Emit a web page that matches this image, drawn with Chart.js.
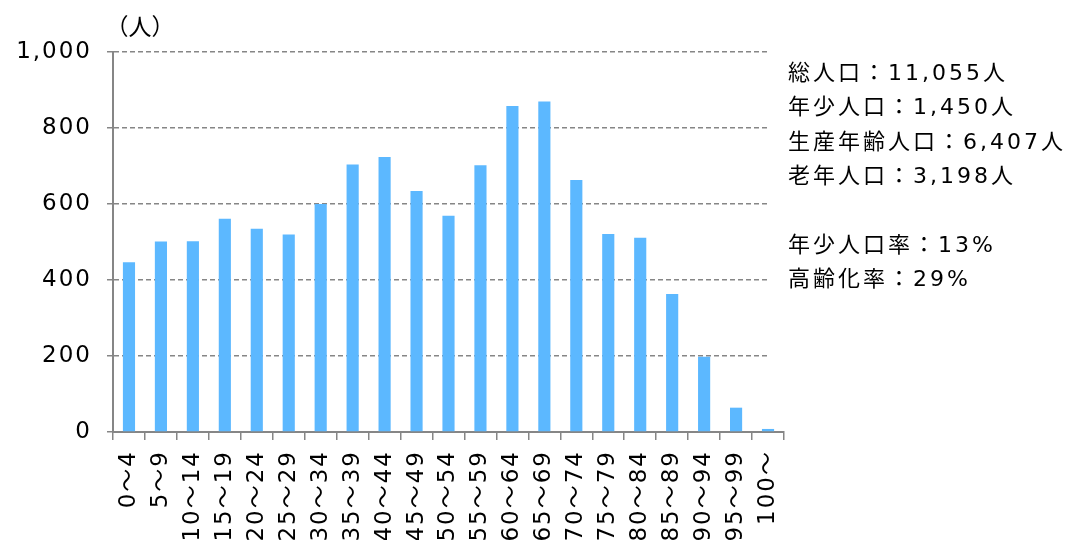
<!DOCTYPE html>
<html lang="ja">
<head>
<meta charset="utf-8">
<title>年齢階級別人口</title>
<script src="https://cdn.jsdelivr.net/npm/chart.js@4/dist/chart.umd.min.js"></script>
<style>
  html, body { margin: 0; padding: 0; background: #fff; }
  #wrap { width: 1067px; height: 540px; position: relative; }
</style>
</head>
<body>
<div id="wrap"><canvas id="c"></canvas></div>
<script>
// 5歳階級別の人口
const ageGroups = ['0～4', '5～9', '10～14', '15～19', '20～24', '25～29', '30～34',
  '35～39', '40～44', '45～49', '50～54', '55～59', '60～64', '65～69', '70～74',
  '75～79', '80～84', '85～89', '90～94', '95～99', '100～'];
const population = [447, 501, 502, 561, 535, 520, 600, 704, 724, 634, 569, 702, 858,
  870, 663, 521, 511, 363, 198, 64, 8];
const yTicks = [0, 200, 400, 600, 800, 1000];
const unitLabel = '（人）';
const summaryLines = [
  '総人口：11,055人',
  '年少人口：1,450人',
  '生産年齢人口：6,407人',
  '老年人口：3,198人',
  '',
  '年少人口率：13%',
  '高齢化率：29%'
];

const FAMILY = '"DejaVu Sans", "Noto Sans CJK JP", sans-serif';
const AXIS_GRAY = '#868686';
const BAR_BLUE = '#5cb8ff';

// tick labels are drawn with a little tracking
const trackingPlugin = {
  id: 'tracking',
  beforeDraw(chart) { chart.ctx.letterSpacing = '2px'; }
};

// summary text box (white background) and unit label
const summaryPlugin = {
  id: 'summary',
  beforeDatasetsDraw(chart) {
    const ctx = chart.ctx;
    ctx.save();
    ctx.fillStyle = '#fff';
    ctx.fillRect(768, 40, 1067 - 768, 360);
    ctx.fillStyle = '#000';
    ctx.letterSpacing = '3px';
    ctx.font = '22px ' + FAMILY;
    ctx.textAlign = 'left';
    ctx.textBaseline = 'alphabetic';
    summaryLines.forEach((line, i) => {
      if (line) ctx.fillText(line, 788, 80 + i * 34.3);
    });
    ctx.letterSpacing = '0px';
    ctx.textAlign = 'center';
    ctx.textBaseline = 'middle';
    ctx.font = '23px "Noto Sans CJK JP", sans-serif';
    ctx.fillText(unitLabel, 140, 26);
    ctx.restore();
  }
};

const tickFont = { family: FAMILY, size: 23 };

new Chart(document.getElementById('c'), {
  type: 'bar',
  data: {
    labels: ageGroups,
    datasets: [{
      data: population,
      backgroundColor: BAR_BLUE,
      borderWidth: 0,
      barPercentage: 0.38,
      categoryPercentage: 1.0
    }]
  },
  options: {
    responsive: true,
    maintainAspectRatio: false,
    animation: false,
    layout: { padding: { top: 52, right: 283, bottom: 0, left: 0 } },
    plugins: { legend: { display: false }, tooltip: { enabled: false }, title: { display: false } },
    scales: {
      x: {
        afterFit: s => { s.height = 108; },
        border: { display: true, color: AXIS_GRAY, width: 2 },
        grid: { drawOnChartArea: false, offset: true, tickLength: 8, color: AXIS_GRAY, lineWidth: 1.5 },
        ticks: { autoSkip: false, minRotation: 90, maxRotation: 90, padding: 10, color: '#000', font: tickFont }
      },
      y: {
        min: 0,
        max: 1000,
        afterBuildTicks: s => { s.ticks = yTicks.map(v => ({ value: v })); },
        afterFit: s => { s.width = 113; },
        border: { display: true, color: AXIS_GRAY, width: 2, dash: [5, 3] },
        grid: { color: AXIS_GRAY, lineWidth: 1.5, tickLength: 6, tickColor: AXIS_GRAY, tickWidth: 1.5 },
        ticks: { color: '#000', font: tickFont, padding: 15, callback: v => v.toLocaleString('en-US') }
      }
    }
  },
  plugins: [trackingPlugin, summaryPlugin]
});
</script>
</body>
</html>
